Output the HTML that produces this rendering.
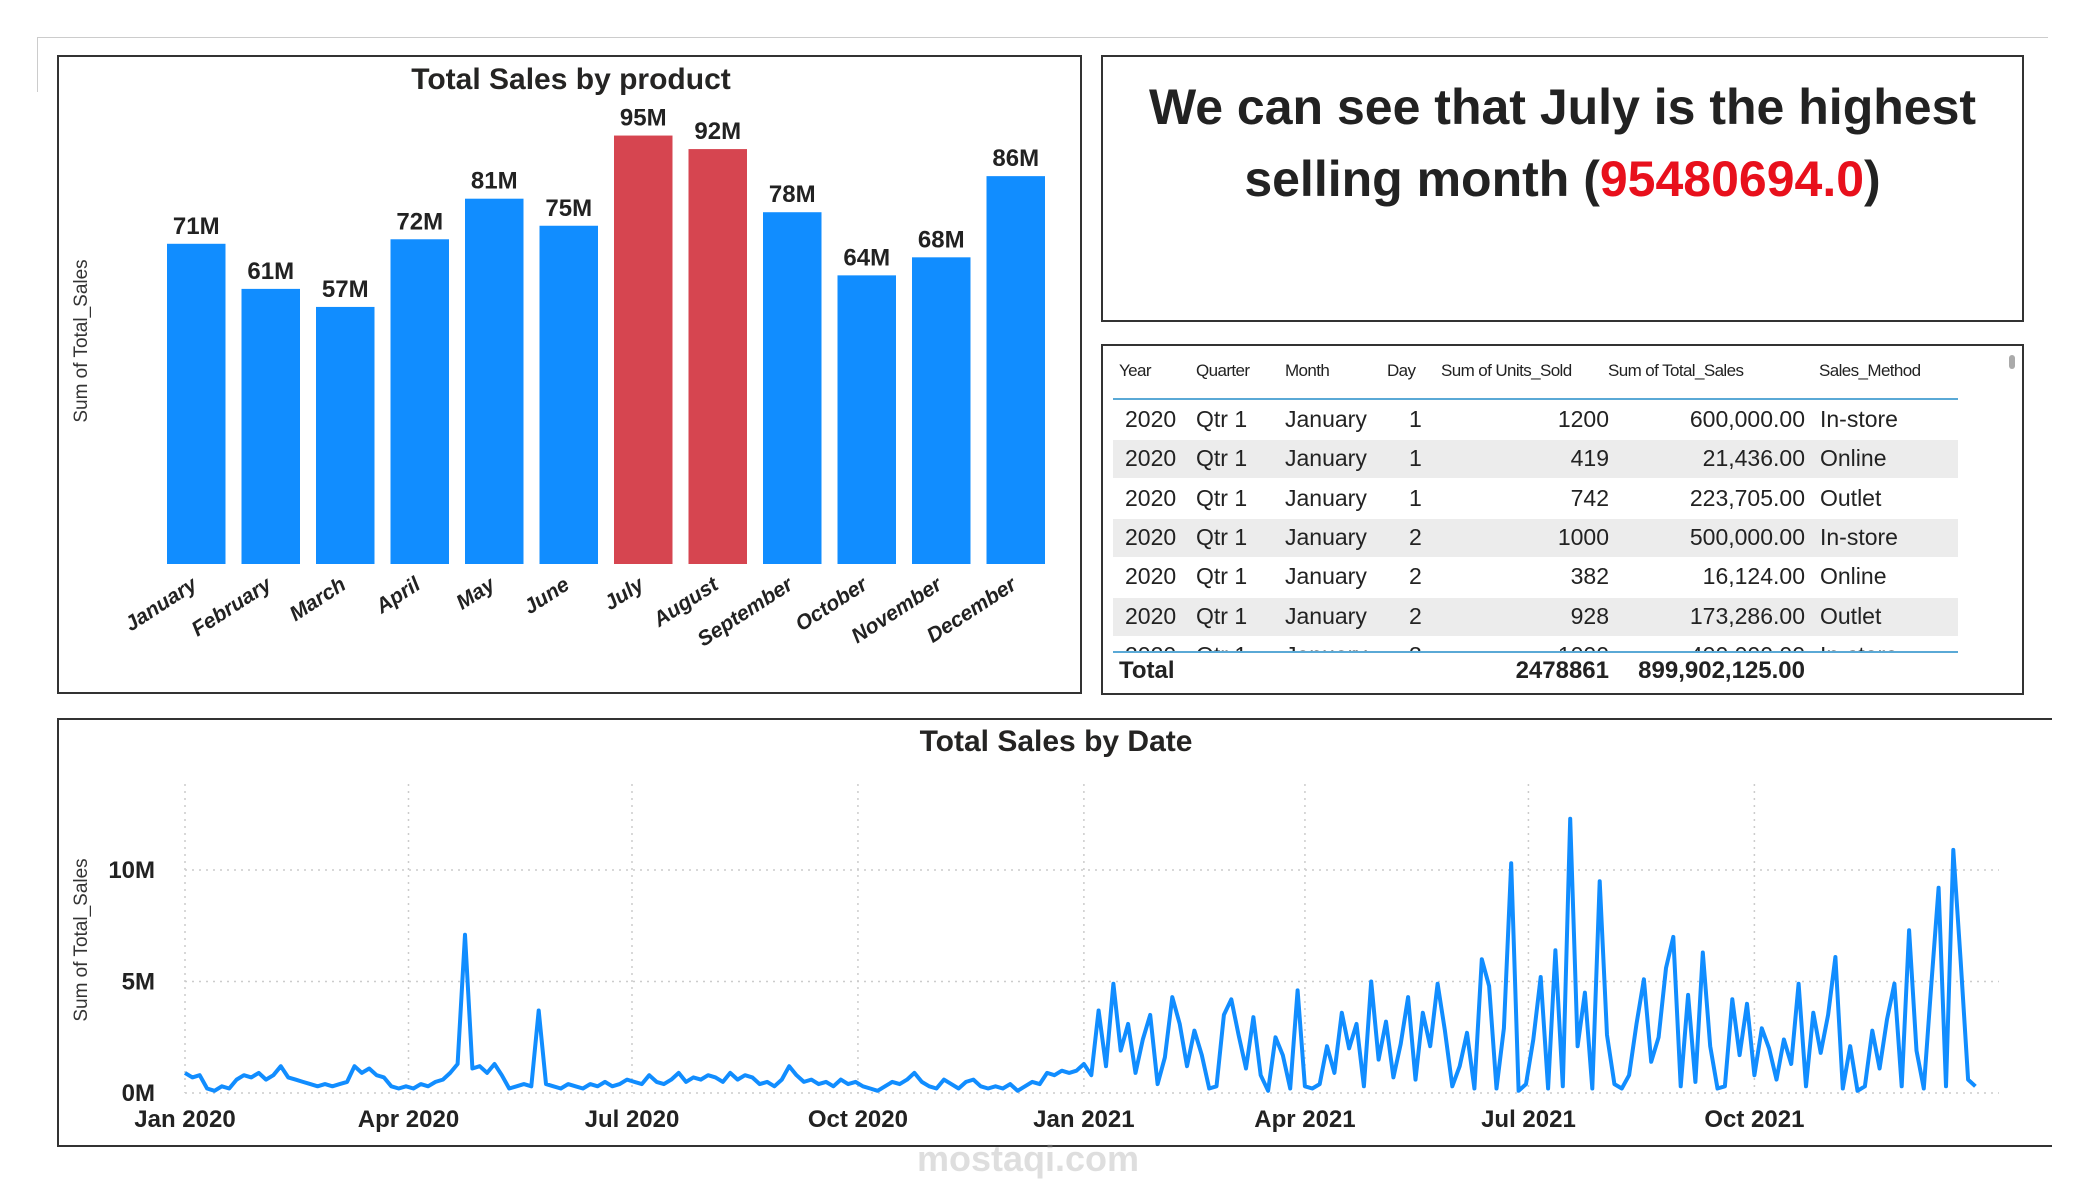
<!DOCTYPE html>
<html><head><meta charset="utf-8">
<style>
body{margin:0;width:2075px;height:1200px;background:#fff;position:relative;overflow:hidden;font-family:"Liberation Sans",sans-serif;color:#222}
.box{position:absolute;border:2px solid #333;box-sizing:border-box;background:#fff}
.t{position:absolute;white-space:nowrap}
</style></head><body>
<div style="position:absolute;left:37px;top:37px;width:2011px;height:1px;background:#ccc"></div>
<div style="position:absolute;left:37px;top:37px;width:1px;height:55px;background:#ccc"></div>

<div class="box" style="left:57px;top:55px;width:1025px;height:639px">
<svg id="bars" width="1025" height="639"></svg>
</div>

<div class="box" style="left:1101px;top:55px;width:923px;height:267px">
<div class="t" style="left:0;width:919px;top:14px;text-align:center;font-weight:bold;font-size:50px;line-height:72px;white-space:normal;color:#222">We can see that July is the highest<br>selling month (<span style="color:#e8101c">95480694.0</span>)</div>
</div>

<div class="box" style="left:1101px;top:344px;width:923px;height:351px">
<div style="position:absolute;left:906px;top:9px;width:6px;height:14px;border-radius:3px;background:#aaa"></div>
<div id="tbl" style="position:absolute;left:0;top:0;width:860px;height:340px;overflow:hidden"></div>
</div>

<div class="box" style="left:57px;top:718px;width:1995px;height:429px;border-right:none">
<svg id="line" width="1995" height="429"></svg>
</div>

<div class="t" style="left:917px;top:1138px;font-size:36px;font-weight:bold;color:rgba(160,160,160,0.35)">mostaqi.com</div>

<script>
const NS="http://www.w3.org/2000/svg";
function mk(p,tag,attrs){const e=document.createElementNS(NS,tag);for(const k in attrs)e.setAttribute(k,attrs[k]);p.appendChild(e);return e;}

// ---- Bar chart ----
const months=["January","February","March","April","May","June","July","August","September","October","November","December"];
const monthSales=[71,61,57,72,81,75,95,92,78,64,68,86];
const monthLabels=["71M","61M","57M","72M","81M","75M","95M","92M","78M","64M","68M","86M"];
const highlight=[false,false,false,false,false,false,true,true,false,false,false,false];

const bs=document.getElementById('bars');
const baseY=507, pxPerM=4.51, x0=108, pitch=74.5, bw=58.5;
const by=v=>baseY-v*pxPerM;
const bx=i=>x0+i*pitch;
let tt=mk(bs,'text',{x:512,y:32,'text-anchor':'middle','font-size':30,'font-weight':'bold',fill:'#252423'});tt.textContent="Total Sales by product";


let yt=mk(bs,'text',{transform:'translate(28,284) rotate(-90)','text-anchor':'middle','font-size':19,fill:'#333'});yt.textContent="Sum of Total_Sales";


monthSales.forEach((v,i)=>{
  const r=mk(bs,'rect',{x:bx(i),y:by(v),width:bw,height:v*pxPerM,fill:highlight[i]?'#d64550':'#118dff'});
  
  
  const l=mk(bs,'text',{x:bx(i)+bw/2,y:by(v)-10,'text-anchor':'middle','font-size':24,'font-weight':'bold',fill:'#222'});l.textContent=monthLabels[i];
  
  
  const m=mk(bs,'text',{transform:`translate(${bx(i)+bw/2+2},${baseY+24}) rotate(-33)`,'text-anchor':'end','font-size':21,'font-weight':'bold','font-style':'italic',fill:'#222'});m.textContent=months[i];
  
  
});

// ---- Table ----
const headers=["Year","Quarter","Month","Day","Sum of Units_Sold","Sum of Total_Sales","Sales_Method"];
const rows=[["2020","Qtr 1","January","1","1200","600,000.00","In-store"],["2020","Qtr 1","January","1","419","21,436.00","Online"],["2020","Qtr 1","January","1","742","223,705.00","Outlet"],["2020","Qtr 1","January","2","1000","500,000.00","In-store"],["2020","Qtr 1","January","2","382","16,124.00","Online"],["2020","Qtr 1","January","2","928","173,286.00","Outlet"],["2020","Qtr 1","January","3","1000","400,000.00","In-store"]];
const colR=[null,null,null,null,506,702,null];
const tb=document.getElementById('tbl');
function cell(txt,x,right,y,size,bold,name,ls){const d=document.createElement('div');d.className='t';d.textContent=txt;d.style.top=y+'px';d.style.fontSize=size+'px';if(ls)d.style.letterSpacing=ls+'px';if(bold)d.style.fontWeight='bold';if(right!==null&&right!==undefined){d.style.right=(860-right)+'px';}else d.style.left=x+'px';tb.appendChild(d);}
const hx=[16,93,182,284,338,505,716];
headers.forEach((h,i)=>cell(h,hx[i],null,15,17,false,'column-header',-0.6));
const hl=document.createElement('div');hl.style.cssText='position:absolute;left:10px;top:52px;width:845px;height:2px;background:#5aa9d6';tb.appendChild(hl);
rows.forEach((r,ri)=>{
  const top=55+ri*39.3;
  const bg=document.createElement('div');bg.style.cssText=`position:absolute;left:10px;top:${top}px;width:845px;height:38px;background:${ri%2?'#ececec':'#fff'}`;
  
  
  tb.appendChild(bg);
  const dx=[22,93,182,306,null,null,717];
  r.forEach((c,ci)=>cell(c,dx[ci],colR[ci],top+5,23,false,'table-cell'));
});
const cover=document.createElement('div');cover.style.cssText='position:absolute;left:0;top:306px;width:860px;height:40px;background:#fff';tb.appendChild(cover);
const bl=document.createElement('div');bl.style.cssText='position:absolute;left:10px;top:305px;width:845px;height:2px;background:#5aa9d6';tb.appendChild(bl);
cell("Total",16,null,311,24,true,'total-label');
cell("2478861",null,506,311,24,true,'total-units');
cell("899,902,125.00",null,702,311,24,true,'total-sales');

// ---- Line chart ----
// values in millions, one sample every 3 days from 2020-01-01
const dailySales=[
0.9,0.7,0.8,0.2,0.1,0.3,0.2,0.6,0.8,0.7,
0.9,0.6,0.8,1.2,0.7,0.6,0.5,0.4,0.3,0.4,
0.3,0.4,0.5,1.2,0.9,1.1,0.8,0.7,0.3,0.2,
0.3,0.2,0.4,0.3,0.5,0.6,0.9,1.3,7.1,1.1,
1.2,0.9,1.3,0.8,0.2,0.3,0.4,0.3,3.7,0.4,
0.3,0.2,0.4,0.3,0.2,0.4,0.3,0.5,0.3,0.4,
0.6,0.5,0.4,0.8,0.5,0.4,0.6,0.9,0.5,0.7,
0.6,0.8,0.7,0.5,0.9,0.6,0.8,0.7,0.4,0.5,
0.3,0.6,1.2,0.8,0.5,0.6,0.4,0.5,0.3,0.6,
0.4,0.5,0.3,0.2,0.1,0.3,0.5,0.4,0.6,0.9,
0.5,0.3,0.2,0.6,0.4,0.2,0.5,0.6,0.3,0.2,
0.3,0.2,0.4,0.1,0.3,0.5,0.4,0.9,0.8,1.0,0.9,1.0,
1.3,0.8,3.7,1.2,4.9,1.9,3.1,0.9,2.4,3.5,
0.4,1.6,4.3,3.1,1.2,2.8,1.7,0.2,0.3,3.5,
4.2,2.6,1.1,3.4,0.8,0.1,2.5,1.7,0.2,4.6,
0.3,0.2,0.4,2.1,0.9,3.6,2.0,3.1,0.3,5.0,
1.5,3.2,0.7,2.2,4.3,0.6,3.6,2.1,4.9,2.8,
0.3,1.2,2.7,0.2,6.0,4.8,0.2,2.9,10.3,0.1,
0.4,2.4,5.2,0.2,6.4,0.3,12.3,2.1,4.5,0.2,
9.5,2.6,0.4,0.2,0.8,3.1,5.1,1.4,2.5,5.6,
7.0,0.3,4.4,0.5,6.3,2.1,0.2,0.3,4.2,1.7,
4.0,0.8,2.9,2.0,0.6,2.4,1.3,4.9,0.3,3.6,
1.8,3.5,6.1,0.2,2.1,0.1,0.3,2.8,1.1,3.3,
4.9,0.3,7.3,1.9,0.2,4.8,9.2,0.3,10.9,5.9,0.6,0.3];
const stepDays=3;
const yTicks=[0,5,10];
const yTickLabels=["0M","5M","10M"];
const xTickDays=[0,91,182,274,366,456,547,639];
const xTickLabels=["Jan 2020","Apr 2020","Jul 2020","Oct 2020","Jan 2021","Apr 2021","Jul 2021","Oct 2021"];

const ls=document.getElementById('line');
const lx=d=>126+d*2.456;
const ly=v=>373-v*22.3;
let lt=mk(ls,'text',{x:997,y:31,'text-anchor':'middle','font-size':30,'font-weight':'bold',fill:'#252423'});lt.textContent="Total Sales by Date";


let ly2=mk(ls,'text',{transform:'translate(28,220) rotate(-90)','text-anchor':'middle','font-size':19,fill:'#333'});ly2.textContent="Sum of Total_Sales";


yTicks.forEach((v,i)=>{
  const g=mk(ls,'line',{x1:lx(0),x2:1940,y1:ly(v),y2:ly(v),stroke:'#ccc','stroke-width':1.5,'stroke-dasharray':'2 5'});
  
  
  const t=mk(ls,'text',{x:96,y:ly(v)+8,'text-anchor':'end','font-size':24,'font-weight':'bold',fill:'#222'});t.textContent=yTickLabels[i];
  
  
});
xTickDays.forEach((d,i)=>{
  const g=mk(ls,'line',{x1:lx(d),x2:lx(d),y1:64,y2:ly(0),stroke:'#ccc','stroke-width':1.5,'stroke-dasharray':'2 5'});
  
  
  const t=mk(ls,'text',{x:lx(d),y:407,'text-anchor':'middle','font-size':24,'font-weight':'bold',fill:'#222'});t.textContent=xTickLabels[i];
  
  
});
const pts=dailySales.map((v,i)=>lx(i*stepDays).toFixed(1)+','+ly(v).toFixed(1)).join(' ');
const pl=mk(ls,'polyline',{points:pts,fill:'none',stroke:'#118dff','stroke-width':4,'stroke-linejoin':'round'});


</script>
</body></html>
